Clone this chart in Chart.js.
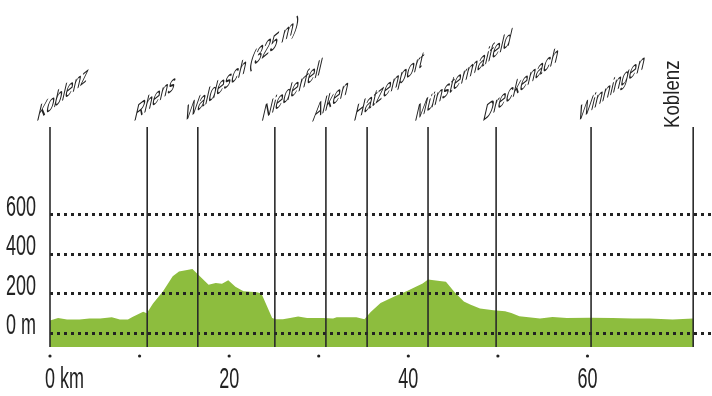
<!DOCTYPE html>
<html>
<head>
<meta charset="utf-8">
<script src="https://cdn.jsdelivr.net/npm/chart.js@4.4.1/dist/chart.umd.min.js"></script>
<style>
html, body { margin: 0; padding: 0; background: #fff; }
canvas { display: block; }
</style>
</head>
<body>
<canvas id="profile" width="712" height="396"></canvas>
<script>
// Höhenprofil Koblenz - Koblenz
const distanceKm = [0, 0.9, 1.9, 3.3, 4.4, 5.6, 6.9, 7.8, 8.7, 9.2,
    10.4, 10.8, 11.5, 12.6, 13.7, 14.4, 15.6, 15.9, 16.5, 17.7,
    18.5, 19.2, 19.9, 20.7, 21.6, 23.1, 23.6, 24.8, 25.2, 26.0,
    26.8, 27.7, 28.7, 30.5, 31.6, 32.0, 34.2, 35.1, 35.8, 36.9,
    38.5, 39.8, 40.9, 41.6, 42.2, 43.5, 44.2, 45.1, 46.2, 46.9,
    48.0, 49.5, 50.8, 51.5, 52.4, 54.7, 56.1, 57.7, 60.2, 62.8,
    65.0, 66.9, 69.5, 71.8];
const elevationM = [64, 76, 68, 68, 73, 73, 80, 68, 68, 81,
    108, 100, 150, 210, 288, 312, 322, 325, 298, 245,
    254, 250, 268, 234, 212, 207, 200, 76, 70, 70,
    76, 84, 76, 76, 73, 80, 80, 70, 107, 152,
    186, 212, 236, 251, 271, 264, 260, 210, 160, 145,
    124, 115, 110, 102, 85, 73, 81, 76, 78, 76,
    73, 73, 68, 73];

const placeNames = ['Koblenz', 'Rhens', 'Waldesch (325 m)', 'Niederfell', 'Alken',
    'Hatzenport', 'Münstermaifeld', 'Dreckenach', 'Winningen', 'Koblenz'];
const placeKm = [0, 10.85, 16.5, 25.1, 30.8, 35.4, 42.2, 49.8, 60.4, 71.8];

const elevationTicks = [0, 200, 400, 600];
const kmLabels = [0, 20, 40, 60];

const FONT = '29px "Liberation Sans", Arial, sans-serif';
const PLACE_FONT = '25px "Liberation Sans", Arial, sans-serif';
const SQUEEZE = 0.62;        // schmale Schrift nachbilden
const PLACE_SQUEEZE = 0.72;
const END_FONT = '22px "Liberation Sans", Arial, sans-serif';
const END_SQUEEZE = 0.85;
const INK = '#222';
const LABEL_ANGLE = 39 * Math.PI / 180;   // Grundlinie
const LABEL_UP = 77 * Math.PI / 180;      // Buchstabenachse (schräg gestellt)

// Ortslinien, Beschriftungen und Achsenpunkte
const profileDecor = {
    id: 'profileDecor',
    afterDraw(chart) {
        const ctx = chart.ctx;
        const xs = chart.scales.x;
        const ys = chart.scales.y;
        const area = chart.chartArea;

        ctx.save();
        ctx.strokeStyle = '#2a2a2a';
        ctx.lineWidth = 1.6;
        placeKm.forEach(km => {
            const px = xs.getPixelForValue(km);
            ctx.beginPath();
            ctx.moveTo(px, 127);
            ctx.lineTo(px, area.bottom);
            ctx.stroke();
        });

        ctx.fillStyle = INK;
        ctx.textBaseline = 'alphabetic';

        placeNames.forEach((name, i) => {
            const px = xs.getPixelForValue(placeKm[i]);
            ctx.save();
            if (i === placeNames.length - 1) {
                ctx.font = END_FONT;
                ctx.setTransform(0, -END_SQUEEZE, 1, 0, px - 14, 128);
            } else {
                ctx.font = PLACE_FONT;
                ctx.setTransform(
                    PLACE_SQUEEZE * Math.cos(LABEL_ANGLE), -PLACE_SQUEEZE * Math.sin(LABEL_ANGLE),
                    -Math.cos(LABEL_UP), Math.sin(LABEL_UP),
                    px - 14, 122);
            }
            ctx.textAlign = 'left';
            ctx.fillText(name, 0, 0);
            ctx.restore();
        });

        // Höhenbeschriftung
        ctx.font = FONT;
        elevationTicks.forEach(v => {
            const py = ys.getPixelForValue(v);
            ctx.save();
            ctx.setTransform(SQUEEZE, 0, 0, 1, 36, py + 1);
            ctx.textAlign = 'right';
            ctx.fillText(v === 0 ? '0 m' : String(v), 0, 0);
            ctx.restore();
        });

        // km-Punkte
        xs.ticks.filter(t => t.value % 10 === 0).forEach(t => {
            const px = xs.getPixelForValue(t.value);
            ctx.beginPath();
            ctx.arc(px, 356, 1.6, 0, Math.PI * 2);
            ctx.fill();
        });

        kmLabels.forEach(km => {
            const px = xs.getPixelForValue(km);
            ctx.save();
            if (km === 0) {
                const half = ctx.measureText('0').width * SQUEEZE / 2;
                ctx.setTransform(SQUEEZE, 0, 0, 1, px - half, 388);
                ctx.textAlign = 'left';
                ctx.fillText('0 km', 0, 0);
            } else {
                ctx.setTransform(SQUEEZE, 0, 0, 1, px, 388);
                ctx.textAlign = 'center';
                ctx.fillText(String(km), 0, 0);
            }
            ctx.restore();
        });
        ctx.restore();
    }
};

const profileChart = new Chart(document.getElementById('profile'), {
    type: 'line',
    data: {
        datasets: [{
            data: distanceKm.map((km, i) => ({ x: km, y: elevationM[i] })),
            fill: 'start',
            backgroundColor: '#8dbd3e',
            borderWidth: 0,
            pointRadius: 0,
            tension: 0
        }]
    },
    options: {
        responsive: false,
        animation: false,
        events: [],
        layout: {
            padding: { left: 50, right: 0, top: 195, bottom: 49 }
        },
        plugins: {
            legend: { display: false },
            tooltip: { enabled: false }
        },
        scales: {
            x: {
                type: 'linear',
                display: false,
                min: 0,
                max: 73.9,
                ticks: { stepSize: 10 }
            },
            y: {
                type: 'linear',
                min: -71,
                max: 700,
                afterBuildTicks: scale => {
                    scale.ticks = elevationTicks.map(v => ({ value: v }));
                },
                ticks: { display: false },
                grid: {
                    color: '#222',
                    lineWidth: 3,
                    drawTicks: false,
                    z: 1
                },
                border: { display: false, dash: [3, 4] }
            }
        }
    },
    plugins: [profileDecor]
});
</script>
</body>
</html>
